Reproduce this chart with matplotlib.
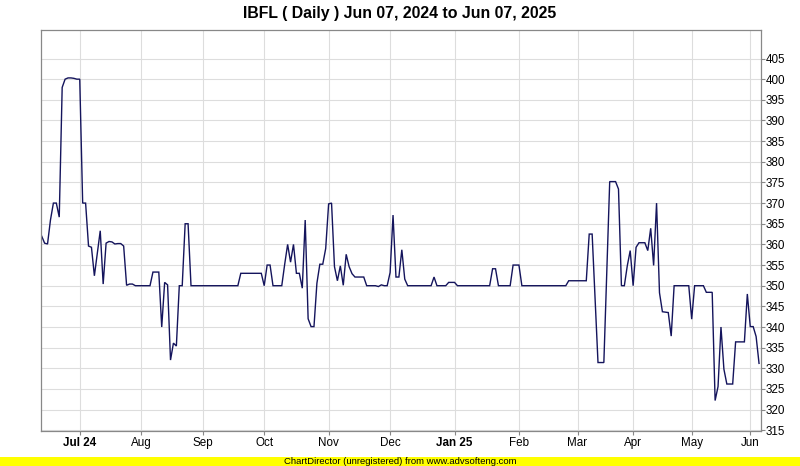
import numpy as np
import matplotlib
matplotlib.use("Agg")
import matplotlib.pyplot as plt
from matplotlib.patches import Rectangle

# daily closing price, one value per trading day
close = (
    [362, 360.3, 360.1, 365.9, 370, 370, 366.6, 398, 400, 400.3,
     400.3, 400.2, 400, 400, 370, 370, 359.6, 359.3, 352.4, 357.8,
     363.3, 350.4, 360.3, 360.7, 360.6, 360.1, 360.2, 360.2, 359.6, 350.1,
     350.4, 350.4, 350, 350, 350, 350, 350, 350, 353.3, 353.3,
     353.3, 340, 350.8, 350.2, 332, 336.1, 335.4, 350, 350, 365,
     365]
    + [350] * 17
    + [353] * 8
    + [350, 355, 355, 350, 350, 350, 350]
    + [355.2, 360, 355.7, 360, 353, 353, 349.4, 365.9, 342, 340.1, 340.1]
    + [350.6, 355.2, 355.2, 359, 369.8, 370, 354.6, 351.2, 354.8, 350.1, 357.6]
    + [354.6, 352.9, 352.1, 352.1, 352.1, 352.1, 350]
    + [350, 350, 350, 349.8, 350.2, 350, 350]
    + [353.2, 367.1, 352.1, 352.1, 358.7, 351.6, 350]
    + [350] * 8
    + [352.1]
    + [350] * 4
    + [350.8] * 3
    + [350] * 12
    + [354.1] * 2
    + [350] * 5
    + [355] * 3
    + [350] * 16
    + [351.2] * 7
    + [362.5, 362.5, 347, 331.4, 331.4, 331.4, 353.3, 375.2, 375.2, 375.2, 373.4, 350, 350]
    + [354.8, 358.5, 350, 359.3, 360.4, 360.4, 360.4, 358.5, 363.9, 354.9,
       370, 348.3, 343.7, 343.6, 343.5, 337.8]
    + [350] * 6
    + [341.9]
    + [350] * 4
    + [348.4] * 3
    + [322.2, 325.6, 340, 329.8, 326.2, 326.2, 326.2, 336.4, 336.4, 336.4,
       336.4, 348, 340.1, 340.1, 337.7, 331.2]
)

# trading days per month (Jun 2024 .. Jun 2025) and the month tick labels
month_days = [13, 21, 21, 21, 22, 21, 22, 22, 20, 19, 20, 20, 4]
month_labels = ["Jul 24", "Aug", "Sep", "Oct", "Nov", "Dec", "Jan 25",
                "Feb", "Mar", "Apr", "May", "Jun"]
bold_labels = ["Jul 24", "Jan 25"]

y_ticks = list(range(315, 410, 5))
title = "IBFL ( Daily ) Jun 07, 2024 to Jun 07, 2025"
footer = "ChartDirector (unregistered) from www.advsofteng.com"

plt.rcParams['font.family'] = ['Liberation Sans', 'DejaVu Sans']

W, H = 800, 466
fig = plt.figure(figsize=(W / 100, H / 100), dpi=100)
fig.patch.set_facecolor("white")

# plot area in pixels
left, right, top, bottom = 40.8, 760.5, 30, 430.7
ax = fig.add_axes([left / W, 1 - bottom / H, (right - left) / W, (bottom - top) / H])

x = np.arange(len(close))
ax.plot(x, close, color="#14145c", lw=1.0, solid_joinstyle="miter")

ax.set_xlim(-0.3, len(close) - 0.5)
ax.set_ylim(314.9, 411.9)

tick_pos = np.cumsum(month_days)[:-1]
ax.set_xticks(tick_pos)
ax.set_xticklabels(month_labels)
for lab in ax.get_xticklabels():
    if lab.get_text() in bold_labels:
        lab.set_fontweight("bold")

ax.yaxis.tick_right()
ax.set_yticks(y_ticks)
ax.set_yticklabels([str(v) for v in y_ticks])

ax.grid(True, color="#dddddd", lw=0.8)
ax.set_axisbelow(True)
for s in ax.spines.values():
    s.set_color("#888888")
    s.set_linewidth(0.9)

ax.tick_params(axis="y", which="both", direction="out", length=3, width=0.8,
               color="#888888", labelsize=8.4, pad=1, labelcolor="#000000")
ax.tick_params(axis="x", which="both", direction="out", length=3, width=0.8,
               color="#888888", labelsize=8.4, pad=1.5, labelcolor="#000000")

fig.text(0.5, 1 - 13.5 / H, title, ha="center", va="center",
         fontsize=11.4, fontweight="bold")

# yellow footer strip
fig.add_artist(Rectangle((0, 0), 1, 9.3 / H, transform=fig.transFigure,
                         facecolor="#ffff00", edgecolor="none"))
fig.text(0.5, 4.6 / H, footer, ha="center", va="center", fontsize=6.8)

fig.savefig("out.png", dpi=100)
